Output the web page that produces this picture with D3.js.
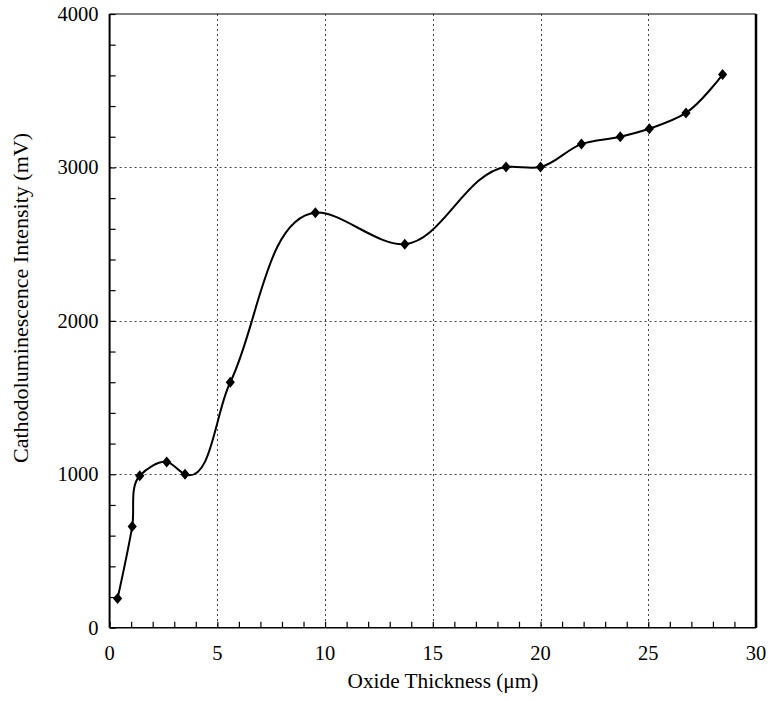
<!DOCTYPE html>
<html>
<head>
<meta charset="utf-8">
<script src="https://cdn.jsdelivr.net/npm/d3@7"></script>
<style>
  html, body { margin: 0; padding: 0; background: #fff; }
  svg { display: block; }
</style>
</head>
<body>
<div id="chart"></div>
<script>
// oxide thickness (µm) vs cathodoluminescence intensity (mV)
const thickness = [0.37, 1.05, 1.4, 2.65, 3.5, 5.6, 9.55, 13.7, 18.4, 20.0, 21.9, 23.7, 25.05, 26.75, 28.45];
const intensity = [190, 660, 990, 1080, 1000, 1600, 2705, 2500, 3003, 3003, 3152, 3200, 3252, 3355, 3605];
const xTicks = [0, 5, 10, 15, 20, 25, 30];
const yTicks = [0, 1000, 2000, 3000, 4000];

const W = 771, H = 701;
const m = { left: 109.6, right: 756, top: 14, bottom: 627.7 };
const FONT = '"Liberation Serif", "Times New Roman", "DejaVu Serif", serif';
const FS = 20.5;

const pts = thickness.map((t, i) => ({ x: t, y: intensity[i] }));

const x = d3.scaleLinear().domain([0, 30]).range([m.left, m.right]);
const y = d3.scaleLinear().domain([0, 4000]).range([m.bottom, m.top]);

const svg = d3.select('#chart').append('svg')
  .attr('width', W).attr('height', H)
  .attr('font-family', FONT);

// grid
const grid = svg.append('g').attr('class', 'grid')
  .attr('stroke', '#444').attr('stroke-width', 1).attr('stroke-dasharray', '2,3');
grid.selectAll('.gx').data(xTicks.slice(1, -1)).join('line')
  .attr('x1', d => Math.round(x(d)) + 0.5).attr('x2', d => Math.round(x(d)) + 0.5)
  .attr('y1', m.top).attr('y2', m.bottom);
grid.selectAll('.gy').data(yTicks.slice(1, -1)).join('line')
  .attr('y1', d => Math.round(y(d)) + 0.5).attr('y2', d => Math.round(y(d)) + 0.5)
  .attr('x1', m.left).attr('x2', m.right);

// axes (ticks pointing inward)
const xAxis = svg.append('g').attr('transform', `translate(0,${m.bottom})`)
  .call(d3.axisTop(x).ticks(30).tickSize(6).tickFormat(''));
const yAxis = svg.append('g').attr('transform', `translate(${m.left},0)`)
  .call(d3.axisRight(y).ticks(20).tickSize(6).tickFormat(''));
[xAxis, yAxis].forEach(a => {
  a.select('.domain').remove();
  a.selectAll('line').attr('stroke', '#000').attr('stroke-width', 1.2);
});

// tick labels
svg.append('g').selectAll('text').data(xTicks).join('text')
  .attr('x', d => x(d)).attr('y', m.bottom + 32.5)
  .attr('text-anchor', 'middle').attr('font-size', FS)
  .text(d => d);
svg.append('g').selectAll('text').data(yTicks).join('text')
  .attr('x', m.left - 11).attr('y', d => y(d) + 7)
  .attr('text-anchor', 'end').attr('font-size', FS)
  .text(d => d);

// frame
svg.append('line').attr('x1', m.left).attr('x2', m.right).attr('y1', m.top).attr('y2', m.top)
  .attr('stroke', '#000').attr('stroke-width', 1.2);
svg.append('line').attr('x1', m.left).attr('x2', m.right).attr('y1', m.bottom).attr('y2', m.bottom)
  .attr('stroke', '#000').attr('stroke-width', 1.4);
svg.append('line').attr('x1', m.left).attr('x2', m.left).attr('y1', m.top).attr('y2', m.bottom)
  .attr('stroke', '#000').attr('stroke-width', 2);
svg.append('line').attr('x1', m.right).attr('x2', m.right).attr('y1', m.top).attr('y2', m.bottom)
  .attr('stroke', '#000').attr('stroke-width', 2.5);

// smoothed line (chordal catmull-rom)
const line = d3.line().x(d => x(d.x)).y(d => y(d.y)).curve(d3.curveCatmullRom.alpha(1));
svg.append('path').datum(pts)
  .attr('d', line)
  .attr('fill', 'none').attr('stroke', '#000').attr('stroke-width', 2);

// diamond markers
const diamond = 'M0,-5.5L4.6,0L0,5.5L-4.6,0Z';
svg.append('g').selectAll('path').data(pts).join('path')
  .attr('d', diamond)
  .attr('transform', d => `translate(${x(d.x)},${y(d.y)})`)
  .attr('fill', '#000');

// axis titles
svg.append('text')
  .attr('x', 443).attr('y', 688)
  .attr('text-anchor', 'middle').attr('font-size', 21.3)
  .text('Oxide Thickness (μm)');
svg.append('text')
  .attr('transform', 'translate(28,298) rotate(-90)')
  .attr('text-anchor', 'middle').attr('font-size', 22)
  .text('Cathodoluminescence Intensity (mV)');
</script>
</body>
</html>
